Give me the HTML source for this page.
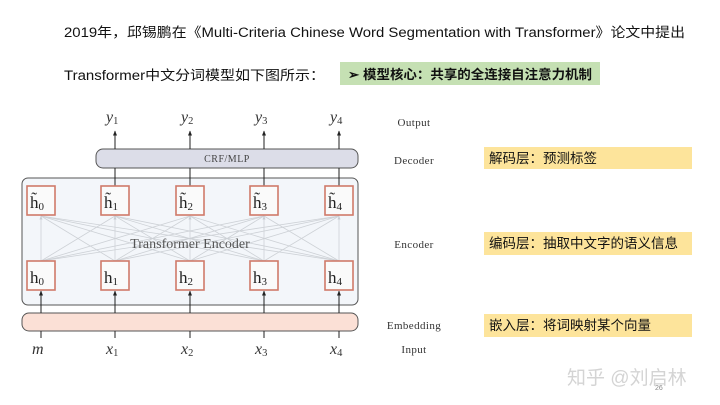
<!DOCTYPE html>
<html><head><meta charset="utf-8"><style>
html,body{margin:0;padding:0;background:#fff;}
svg{display:block;}
.cj{font-family:"Liberation Sans","Noto Sans CJK SC",sans-serif;}
.sf{font-family:"Liberation Serif","DejaVu Serif",serif;}
</style></head><body>
<svg width="720" height="405" viewBox="0 0 720 405" xmlns="http://www.w3.org/2000/svg">
<defs>
<marker id="ah" viewBox="0 0 10 10" refX="9" refY="5" markerWidth="5" markerHeight="5" orient="auto"><path d="M0,1 L10,5 L0,9 z" fill="#222"/></marker>
<marker id="ag" viewBox="0 0 10 10" refX="9" refY="5" markerWidth="5" markerHeight="5" orient="auto"><path d="M0,1 L10,5 L0,9 z" fill="#c8ccd2"/></marker>
</defs>
<rect width="720" height="405" fill="#fff"/>
<text class="cj" x="64" y="37" font-size="13.5" fill="#111" textLength="621" lengthAdjust="spacingAndGlyphs">2019年，邱锡鹏在《Multi-Criteria Chinese Word Segmentation with Transformer》论文中提出</text>
<text class="cj" x="64" y="80" font-size="13.5" fill="#111" textLength="261" lengthAdjust="spacingAndGlyphs">Transformer中文分词模型如下图所示：</text>
<rect x="340" y="62" width="260" height="23" fill="#c5e0b3"/>
<text class="cj" x="348" y="79" font-size="13" font-weight="bold" fill="#111" textLength="244" lengthAdjust="spacingAndGlyphs">➢ 模型核心：共享的全连接自注意力机制</text>

<rect x="22" y="178" width="336" height="127" rx="6" fill="#f3f6fa" stroke="#555" stroke-width="1"/>
<g stroke="#cdd1d6" stroke-width="0.8">
<line x1="41" y1="261" x2="41" y2="216" marker-end="url(#ag)"/><line x1="41" y1="261" x2="115" y2="216"/><line x1="41" y1="261" x2="190" y2="216"/><line x1="41" y1="261" x2="264" y2="216"/><line x1="41" y1="261" x2="339" y2="216"/>
<line x1="115" y1="261" x2="41" y2="216"/><line x1="115" y1="261" x2="115" y2="216" marker-end="url(#ag)"/><line x1="115" y1="261" x2="190" y2="216"/><line x1="115" y1="261" x2="264" y2="216"/><line x1="115" y1="261" x2="339" y2="216"/>
<line x1="190" y1="261" x2="41" y2="216"/><line x1="190" y1="261" x2="115" y2="216"/><line x1="190" y1="261" x2="190" y2="216" marker-end="url(#ag)"/><line x1="190" y1="261" x2="264" y2="216"/><line x1="190" y1="261" x2="339" y2="216"/>
<line x1="264" y1="261" x2="41" y2="216"/><line x1="264" y1="261" x2="115" y2="216"/><line x1="264" y1="261" x2="190" y2="216"/><line x1="264" y1="261" x2="264" y2="216" marker-end="url(#ag)"/><line x1="264" y1="261" x2="339" y2="216"/>
<line x1="339" y1="261" x2="41" y2="216"/><line x1="339" y1="261" x2="115" y2="216"/><line x1="339" y1="261" x2="190" y2="216"/><line x1="339" y1="261" x2="264" y2="216"/><line x1="339" y1="261" x2="339" y2="216" marker-end="url(#ag)"/>
</g>
<text class="sf" x="190" y="248" font-size="14" fill="#555" text-anchor="middle">Transformer Encoder</text>

<rect x="96" y="149" width="262" height="19" rx="7" fill="#dcdde8" stroke="#555" stroke-width="1"/>
<text class="sf" x="227" y="162" font-size="10" fill="#444" text-anchor="middle" letter-spacing="0.5">CRF/MLP</text>
<rect x="22" y="313" width="336" height="18" rx="7" fill="#fbe0d6" stroke="#555" stroke-width="1"/>

<g stroke="#222" stroke-width="1">
<line x1="115" y1="149" x2="115" y2="131" marker-end="url(#ah)"/>
<line x1="190" y1="149" x2="190" y2="131" marker-end="url(#ah)"/>
<line x1="264" y1="149" x2="264" y2="131" marker-end="url(#ah)"/>
<line x1="339" y1="149" x2="339" y2="131" marker-end="url(#ah)"/>
<line x1="115" y1="168" x2="115" y2="186"/><line x1="190" y1="168" x2="190" y2="186"/><line x1="264" y1="168" x2="264" y2="186"/><line x1="339" y1="168" x2="339" y2="186"/>
<line x1="41" y1="313" x2="41" y2="291" marker-end="url(#ah)"/>
<line x1="115" y1="313" x2="115" y2="291" marker-end="url(#ah)"/>
<line x1="190" y1="313" x2="190" y2="291" marker-end="url(#ah)"/>
<line x1="264" y1="313" x2="264" y2="291" marker-end="url(#ah)"/>
<line x1="339" y1="313" x2="339" y2="291" marker-end="url(#ah)"/>
<line x1="41" y1="331" x2="41" y2="338"/><line x1="115" y1="331" x2="115" y2="338"/><line x1="190" y1="331" x2="190" y2="338"/><line x1="264" y1="331" x2="264" y2="338"/><line x1="339" y1="331" x2="339" y2="338"/>
</g>

<g fill="#fafafa" stroke="#d07a6a" stroke-width="1.6">
<rect x="27" y="186" width="28" height="29"/><rect x="101" y="186" width="28" height="29"/><rect x="176" y="186" width="28" height="29"/><rect x="250" y="186" width="28" height="29"/><rect x="325" y="186" width="28" height="29"/>
<rect x="27" y="261" width="28" height="29"/><rect x="101" y="261" width="28" height="29"/><rect x="176" y="261" width="28" height="29"/><rect x="250" y="261" width="28" height="29"/><rect x="325" y="261" width="28" height="29"/>
</g>
<g class="sf" font-size="17" fill="#222">
<text x="30" y="208">h̃<tspan font-size="11" dy="2">0</tspan></text>
<text x="104" y="208">h̃<tspan font-size="11" dy="2">1</tspan></text>
<text x="179" y="208">h̃<tspan font-size="11" dy="2">2</tspan></text>
<text x="253" y="208">h̃<tspan font-size="11" dy="2">3</tspan></text>
<text x="328" y="208">h̃<tspan font-size="11" dy="2">4</tspan></text>
<text x="30" y="283">h<tspan font-size="11" dy="2">0</tspan></text>
<text x="104" y="283">h<tspan font-size="11" dy="2">1</tspan></text>
<text x="179" y="283">h<tspan font-size="11" dy="2">2</tspan></text>
<text x="253" y="283">h<tspan font-size="11" dy="2">3</tspan></text>
<text x="328" y="283">h<tspan font-size="11" dy="2">4</tspan></text>
</g>
<g class="sf" font-size="16" font-style="italic" fill="#333">
<text x="106" y="122">y<tspan font-size="10.5" font-style="normal" dy="2">1</tspan></text>
<text x="181" y="122">y<tspan font-size="10.5" font-style="normal" dy="2">2</tspan></text>
<text x="255" y="122">y<tspan font-size="10.5" font-style="normal" dy="2">3</tspan></text>
<text x="330" y="122">y<tspan font-size="10.5" font-style="normal" dy="2">4</tspan></text>
<text x="32" y="354">m</text>
<text x="106" y="354">x<tspan font-size="10.5" font-style="normal" dy="2">1</tspan></text>
<text x="181" y="354">x<tspan font-size="10.5" font-style="normal" dy="2">2</tspan></text>
<text x="255" y="354">x<tspan font-size="10.5" font-style="normal" dy="2">3</tspan></text>
<text x="330" y="354">x<tspan font-size="10.5" font-style="normal" dy="2">4</tspan></text>
</g>
<g class="sf" font-size="11" fill="#333" text-anchor="middle" letter-spacing="0.4">
<text x="414" y="126">Output</text>
<text x="414" y="164">Decoder</text>
<text x="414" y="248">Encoder</text>
<text x="414" y="329">Embedding</text>
<text x="414" y="353">Input</text>
</g>
<rect x="484" y="147" width="208" height="22" fill="#fde49b"/>
<rect x="484" y="232" width="208" height="23" fill="#fde49b"/>
<rect x="484" y="314" width="208" height="23" fill="#fde49b"/>
<g class="cj" font-size="13.5" fill="#111">
<text x="489" y="163">解码层：预测标签</text>
<text x="489" y="248">编码层：抽取中文字的语义信息</text>
<text x="489" y="330">嵌入层：将词映射某个向量</text>
</g>
<text class="cj" x="567" y="384" font-size="19" fill="#d4d4d4">知乎 @刘启林</text>
<text class="cj" x="655" y="390" font-size="7" fill="#888">26</text>
</svg>
</body></html>
